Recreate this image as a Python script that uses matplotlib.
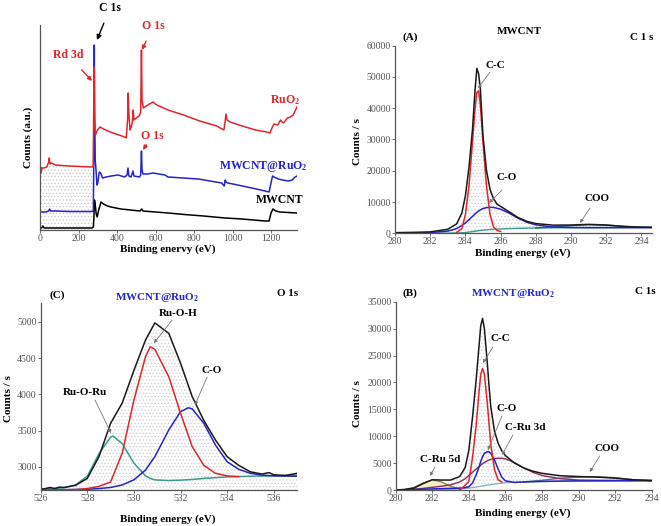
import numpy as np
import matplotlib
matplotlib.use('Agg')
import matplotlib.pyplot as plt

plt.rcParams['font.family'] = ['Liberation Serif', 'DejaVu Serif']
plt.rcParams['mathtext.fontset'] = 'custom'
plt.rcParams['mathtext.rm'] = 'Liberation Serif:bold'
plt.rcParams['mathtext.bf'] = 'Liberation Serif:bold'
plt.rcParams['mathtext.default'] = 'rm'
plt.rcParams['hatch.linewidth'] = 0.6

# ---------------- survey spectra (arbitrary units) ----------------
mwcnt_x = [0, 8, 15, 22, 100, 200, 270, 277, 280, 283, 287, 292, 297, 305, 317, 330, 350, 369,
           420, 470, 520, 528, 535, 600, 665, 750, 850, 961, 1050, 1169, 1190, 1200, 1210,
           1225, 1247, 1290, 1335]
mwcnt_y = [2, 2, 4, 2, 2, 2, 2, 3, 12, 30, 25, 16, 13, 20, 28, 26, 24, 23,
           21, 20, 19, 21, 19, 18, 17, 15.5, 14, 12, 11, 9, 9, 17, 21,
           19, 18, 17.5, 17]

comp_x = [0, 10, 30, 45, 50, 55, 80, 150, 270, 277, 280, 282, 284, 287, 291, 296, 300, 308,
          315, 325, 343, 370, 405, 440, 452, 457, 462, 473, 478, 483, 488, 517, 523, 527,
          530, 535, 560, 587, 649, 665, 823, 944, 957, 962, 967, 975, 1002, 1100, 1169,
          1190, 1200, 1208, 1215, 1238, 1260, 1290, 1310, 1325, 1335]
comp_y = [18, 18, 18, 19, 21, 19, 19, 18.5, 18.5, 19, 80, 185, 120, 70, 60, 45, 47, 58,
          57, 52, 53, 54, 55, 53, 55, 62, 54, 53, 56, 59, 54, 53, 55, 79,
          60, 56, 56, 57, 55, 53, 51, 47, 44, 50, 48, 47, 46, 42, 39,
          38, 47, 54, 53, 51, 50, 49, 50, 53, 54]

ruo2_x = [0, 3, 6, 10, 20, 35, 45, 48, 52, 60, 80, 150, 270, 276, 279, 281, 283, 288, 298,
          312, 330, 364, 410, 440, 448, 455, 458, 462, 468, 474, 480, 484, 488, 500, 515,
          523, 527, 530, 537, 560, 587, 606, 665, 745, 830, 918, 955, 960, 966, 972, 987,
          1050, 1120, 1178, 1195, 1205, 1215, 1235, 1250, 1258, 1265, 1285, 1300, 1315,
          1325, 1335]
ruo2_y = [58, 63, 57, 62, 62, 63, 68, 72, 66, 67, 65, 64, 63, 64, 120, 163, 110, 95, 100,
          103, 101, 98, 95, 93, 92, 110, 137, 115, 100, 103, 108, 120, 110, 112, 114,
          118, 180, 130, 122, 125, 128, 125, 120, 115, 109, 104, 100, 106, 116, 110, 108,
          104, 100, 98, 97, 102, 106, 105, 110, 108, 107, 112, 113, 115,
          119, 123]

# ---------------- (A) C 1s MWCNT ----------------
a_x = [280, 281, 282, 283, 283.5, 283.8, 284.0, 284.2, 284.4, 284.55, 284.65, 284.75, 284.85,
       285.0, 285.2, 285.4, 285.6, 285.8, 286.0, 286.5, 287.0, 287.5, 288.0, 289.0, 290.0,
       291.0, 292.0, 293.0, 294.0, 294.6]
a_env = [200, 300, 450, 1300, 3000, 6500, 12000, 21000, 33000, 46000, 52700, 51000, 46000,
         31000, 20000, 14000, 11000, 9300, 8600, 6800, 5000, 3800, 3100, 2600, 2650,
         2850, 2650, 2200, 1950, 1900]
a_co = [50, 100, 200, 700, 1500, 2500, 3300, 4300, 5400, 6200, 6700, 7100, 7500,
        7900, 8200, 8300, 8250, 8000, 7700, 6400, 4800, 3500, 2700, 2000, 1850,
        1800, 1800, 1800, 1800, 1800]
a_bg = [0, 0, 0, 50, 100, 150, 250, 400, 550, 650, 750, 850, 920,
        1000, 1100, 1200, 1300, 1350, 1400, 1500, 1580, 1650, 1700, 1750, 1780,
        1800, 1820, 1850, 1870, 1880]
a_cc_x = [283.5, 283.8, 284.0, 284.2, 284.4, 284.55, 284.65, 284.75, 284.85, 285.0, 285.2,
          285.4, 285.6, 285.8, 286.0]
a_cc = [300, 1500, 6000, 15000, 29000, 40000, 45000, 45500, 41000, 29000, 15000,
        6000, 2000, 900, 600]
a_coo_x = [288, 289, 290, 291, 292, 293, 294, 294.6]
a_coo = [1750, 2000, 2450, 2750, 2600, 2200, 1950, 1900]

# ---------------- (B) C 1s MWCNT@RuO2 ----------------
b_x = [280, 280.5, 281, 281.5, 282, 282.5, 283, 283.5, 283.8, 284.0, 284.2, 284.4, 284.55,
       284.65, 284.75, 284.85, 285.0, 285.1, 285.2, 285.4, 285.6, 285.8, 286.0, 286.5, 287,
       287.5, 288, 289, 290, 291, 292, 293, 294]
b_env = [0, 100, 350, 1200, 1900, 1850, 1850, 2500, 4200, 7400, 13500, 20500, 26500,
         30500, 31900, 30000, 24000, 19500, 15500, 11000, 8700, 7300, 6400, 5000, 4100,
         3500, 3100, 2650, 2500, 2400, 2200, 1900, 1750]
b_co = [0, 50, 100, 150, 200, 250, 300, 350, 450, 600, 1300, 2800, 4200,
        5300, 6200, 6800, 7100, 7100, 6800, 5600, 3900, 2400, 1700, 1400, 1500,
        1550, 1600, 1650, 1700, 1700, 1720, 1730, 1750]
b_ru3d = [0, 50, 150, 300, 500, 700, 950, 1500, 2100, 2700, 3300, 3900, 4300,
          4600, 4900, 5100, 5400, 5550, 5700, 5850, 5900, 5900, 5800, 5100, 4100,
          3300, 2700, 2100, 1850, 1800, 1780, 1760, 1750]
b_bg = [0, 0, 0, 0, 20, 50, 100, 200, 280, 350, 450, 550, 650,
        700, 750, 800, 900, 950, 1000, 1100, 1200, 1280, 1350, 1450, 1500,
        1550, 1580, 1620, 1650, 1680, 1700, 1720, 1750]
b_cc_x = [283.5, 283.8, 284.0, 284.2, 284.4, 284.55, 284.65, 284.75, 284.85, 285.0, 285.1,
          285.2, 285.4, 285.6, 285.8]
b_cc = [0, 900, 1600, 6000, 12000, 18000, 21500, 22600, 21500, 16500, 12500,
        8500, 3800, 1900, 1500]
b_ru5d_x = [280.5, 281, 281.5, 282, 282.5, 283, 283.5]
b_ru5d = [100, 500, 1300, 1900, 1500, 700, 200]
b_coo_x = [287, 288, 289, 290, 291, 292, 293, 294]
b_coo = [1500, 1800, 2200, 2400, 2450, 2300, 1900, 1750]

# ---------------- (C) O 1s MWCNT@RuO2 ----------------
c_env_x = [526, 526.2, 526.4, 526.6, 526.8, 527, 527.5, 528, 528.5, 529, 529.5, 530, 530.5,
           530.9, 531.5, 532, 532.5, 533, 533.5, 534, 534.5, 535, 535.5, 535.8, 536, 536.5,
           537]
c_env = [2690, 2700, 2715, 2700, 2720, 2715, 2745, 2840, 3140, 3600, 3880, 4330, 4750,
         4985, 4840, 4430, 3970, 3640, 3370, 3140, 3020, 2930, 2900, 2920, 2890, 2880,
         2910]
c_ruoh_x = [526, 527.5, 528, 528.5, 529, 529.5, 530, 530.5, 530.7, 530.9, 531.5, 532, 532.5,
            533, 533.5, 534, 534.5]
c_ruoh = [2680, 2685, 2700, 2730, 2790, 3190, 3920, 4520, 4655, 4620, 4240, 3740, 3280,
          3020, 2910, 2875, 2865]
c_co_x = [526, 527, 528, 528.5, 529, 529.5, 530, 530.5, 530.7, 530.9, 531.5, 532, 532.33,
          532.5, 533, 533.5, 534, 534.5, 535, 535.5, 536, 537]
c_co = [2680, 2685, 2690, 2700, 2715, 2750, 2820, 2955, 3050, 3140, 3510, 3760, 3814,
        3800, 3600, 3300, 3070, 2965, 2910, 2885, 2875, 2870]
c_ruoru_x = [526, 526.5, 527, 527.5, 528, 528.5, 529, 529.1, 529.5, 530, 530.5, 530.7, 530.9,
             531.5, 532, 532.5, 533, 534, 535, 536, 537]
c_ruoru = [2690, 2700, 2710, 2750, 2870, 3180, 3410, 3423, 3320, 3050, 2875, 2840, 2820,
           2810, 2816, 2825, 2840, 2860, 2870, 2875, 2885]

W, H = 661, 526
RED = '#e0262c'
BLUE = '#2424c8'
TEAL = '#3a9a8e'
BOLD = dict(fontweight='bold')


def fig_pt(px, py):
    return px / W, 1 - py / H


def style(ax):
    for s in ['top', 'right']:
        ax.spines[s].set_visible(False)
    for s in ['left', 'bottom']:
        ax.spines[s].set_color('#555555')
        ax.spines[s].set_linewidth(0.9)
    ax.tick_params(labelsize=7, colors='#555555', labelcolor='#555555', length=2, width=0.6, pad=1)


def leader(ax, text, txy, tail, head, fs=8):
    ax.text(txy[0], txy[1], text, ha='center', va='center', fontsize=fs, **BOLD)
    ax.annotate('', xy=head, xytext=tail,
                arrowprops=dict(arrowstyle='-|>', color='#777777', lw=0.6, mutation_scale=5,
                                shrinkA=0, shrinkB=0))


fig = plt.figure(figsize=(W / 100, H / 100), dpi=100)

# ---------------- survey ----------------
ax = fig.add_axes([40 / W, 1 - 230 / H, 257 / W, 205 / H])
style(ax)
rx = np.array(ruo2_x)
ry = np.array(ruo2_y)
low = rx <= 276
ax.fill_between(rx[low], ry[low], 0, facecolor='white', edgecolor='#cccccc', hatch='.....', lw=0)
ax.plot(mwcnt_x, mwcnt_y, color='black', lw=1.1)
ax.plot(comp_x, comp_y, color=BLUE, lw=1.1)
ax.plot(ruo2_x, ruo2_y, color=RED, lw=1.1)
ax.set_xlim(0, 1335)
ax.set_ylim(0, 205)
ax.set_xticks(range(0, 1201, 200))
ax.set_yticks([])
ax.set_xlabel('Binding enervy (eV)', fontsize=8, **BOLD)
ax.xaxis.set_label_coords(0.498, -0.068)
ax.set_ylabel('Counts (a.u.)', fontsize=8, **BOLD)
ax.yaxis.set_label_coords(-0.027, 0.45)

ax.annotate('C 1s', xy=(296, 190), xytext=(364, 222), ha='center', va='center', fontsize=8.5,
            annotation_clip=False, **BOLD,
            arrowprops=dict(arrowstyle='-|>', color='black', lw=1.0, mutation_scale=7,
                            shrinkA=5, shrinkB=0))
ax.annotate('Rd 3d', xy=(270, 149), xytext=(145, 175), ha='center', va='center', fontsize=8.5,
            color=RED, **BOLD,
            arrowprops=dict(arrowstyle='-|>', color=RED, lw=1.0, mutation_scale=6,
                            shrinkA=6, shrinkB=0))
ax.annotate('O 1s', xy=(530, 180), xytext=(587, 204), ha='center', va='center', fontsize=8.5,
            color=RED, annotation_clip=False, **BOLD,
            arrowprops=dict(arrowstyle='-|>', color=RED, lw=1.0, mutation_scale=6,
                            shrinkA=5, shrinkB=0))
ax.annotate('O 1s', xy=(535, 80), xytext=(582, 94), ha='center', va='center', fontsize=8.5,
            color=RED, **BOLD,
            arrowprops=dict(arrowstyle='-|>', color=RED, lw=1.0, mutation_scale=6,
                            shrinkA=5, shrinkB=0))
ax.text(1275, 130, 'RuO$_2$', color=RED, fontsize=8.5, ha='center', va='center', **BOLD)
ax.text(1161, 64, 'MWCNT@RuO$_2$', color=BLUE, fontsize=8.5, ha='center', va='center',
        clip_on=False, **BOLD)
ax.text(1247, 30, 'MWCNT', color='black', fontsize=8.5, ha='center', va='center',
        clip_on=False, **BOLD)

# ---------------- (A) ----------------
ax = fig.add_axes([395 / W, 1 - 233.3 / H, 257 / W, 187.8 / H])
style(ax)
ax.fill_between(a_x, a_env, a_bg, facecolor='white', edgecolor='#d4d4d4', hatch='.....', lw=0)
ax.plot(a_x, a_bg, color=TEAL, lw=1.0)
ax.plot(a_coo_x, a_coo, color='#3d5566', lw=1.0)
ax.plot(a_x, a_co, color=BLUE, lw=1.1)
ax.plot(a_cc_x, a_cc, color=RED, lw=1.1)
ax.plot(a_x, a_env, color='#1a1a1a', lw=1.1)
ax.set_xlim(280, 294.6)
ax.set_ylim(0, 60000)
ax.set_xticks(range(280, 295, 2))
ax.set_yticks(range(0, 60001, 10000))
ax.set_xlabel('Binding energy (eV)', fontsize=8, **BOLD)
ax.xaxis.set_label_coords(0.498, -0.078)
ax.set_ylabel('Counts / s', fontsize=8, **BOLD)
ax.yaxis.set_label_coords(-0.128, 0.49)
leader(ax, 'C-C', (285.68, 53750), (285.40, 51500), (284.72, 46400))
leader(ax, 'C-O', (286.36, 17700), (286.08, 13800), (285.34, 9700))
leader(ax, 'COO', (291.48, 10960), (291.08, 8100), (290.51, 3300))
fig.text(*fig_pt(410, 37), '(A)', fontsize=8, ha='center', va='center', **BOLD)
fig.text(*fig_pt(519, 32), 'MWCNT', fontsize=8, ha='center', va='center', **BOLD)
fig.text(*fig_pt(642, 38), 'C 1 s', fontsize=8, ha='center', va='center', **BOLD)

# ---------------- (C) ----------------
ax = fig.add_axes([40.7 / W, 1 - 490 / H, 256.3 / W, 186.7 / H])
style(ax)
ax.fill_between(c_env_x, c_env, 2680, facecolor='white', edgecolor='#d4d4d4', hatch='.....', lw=0)
ax.plot(c_ruoru_x, c_ruoru, color=TEAL, lw=1.1)
ax.plot(c_co_x, c_co, color=BLUE, lw=1.1)
ax.plot(c_ruoh_x, c_ruoh, color=RED, lw=1.1)
ax.plot(c_env_x, c_env, color='#1a1a1a', lw=1.1)
ax.set_xlim(526, 537)
ax.set_ylim(2680, 5255)
ax.set_xticks(range(526, 537, 2))
ax.set_yticks(range(3000, 5001, 500))
ax.set_xlabel('Binding energy (eV)', fontsize=8, **BOLD)
ax.xaxis.set_label_coords(0.497, -0.129)
ax.set_ylabel('Counts / s', fontsize=8, **BOLD)
ax.yaxis.set_label_coords(-0.108, 0.49)
leader(ax, 'Ru-O-H', (531.89, 5120), (531.64, 5023), (530.86, 4706))
leader(ax, 'C-O', (533.35, 4334), (533.14, 4237), (532.62, 3851))
leader(ax, 'Ru-O-Ru', (527.90, 4030), (528.33, 3920), (529.02, 3464))
fig.text(*fig_pt(57, 295), '(C)', fontsize=8, ha='center', va='center', **BOLD)
fig.text(*fig_pt(157, 297), 'MWCNT@RuO$_2$', color=BLUE, fontsize=8, ha='center', va='center', **BOLD)
fig.text(*fig_pt(288, 293), 'O 1s', fontsize=8, ha='center', va='center', **BOLD)

# ---------------- (B) ----------------
ax = fig.add_axes([395.7 / W, 1 - 490 / H, 256 / W, 188.3 / H])
style(ax)
ax.fill_between(b_x, b_env, b_bg, facecolor='white', edgecolor='#d4d4d4', hatch='.....', lw=0)
ax.fill_between(b_ru5d_x, b_ru5d, 0, color='#f3efc4', lw=0)
ax.plot(b_x, b_bg, color='#8fb0c4', lw=1.0)
ax.plot(b_coo_x, b_coo, color='#5a6f86', lw=1.0)
ax.plot(b_ru5d_x, b_ru5d, color='#8a7f3c', lw=0.9)
ax.plot(b_x, b_ru3d, color='#8a2c5c', lw=1.0)
ax.plot(b_x, b_co, color=BLUE, lw=1.1)
ax.plot(b_cc_x, b_cc, color=RED, lw=1.1)
ax.plot(b_x, b_env, color='#1a1a1a', lw=1.1)
ax.set_xlim(280, 294)
ax.set_ylim(0, 35000)
ax.set_xticks(range(280, 295, 2))
ax.set_yticks(range(0, 35001, 5000))
ax.set_xlabel('Binding energy (eV)', fontsize=8, **BOLD)
ax.xaxis.set_label_coords(0.497, -0.096)
ax.set_ylabel('Counts / s', fontsize=8, **BOLD)
ax.yaxis.set_label_coords(-0.132, 0.46)
leader(ax, 'C-C', (285.70, 28070), (285.32, 26580), (284.77, 23610))
leader(ax, 'C-O', (286.08, 15060), (285.81, 13760), (285.04, 7440))
leader(ax, 'C-Ru 3d', (287.07, 11530), (286.41, 10220), (285.81, 6500))
leader(ax, 'C-Ru 5d', (282.42, 5760), (282.15, 4280), (281.87, 2600))
leader(ax, 'COO', (291.55, 7800), (291.16, 6320), (290.61, 3350))
fig.text(*fig_pt(410, 293), '(B)', fontsize=8, ha='center', va='center', **BOLD)
fig.text(*fig_pt(513, 293), 'MWCNT@RuO$_2$', color=BLUE, fontsize=8, ha='center', va='center', **BOLD)
fig.text(*fig_pt(645, 292), 'C 1s', fontsize=8, ha='center', va='center', **BOLD)

fig.savefig('out.png', dpi=100)
